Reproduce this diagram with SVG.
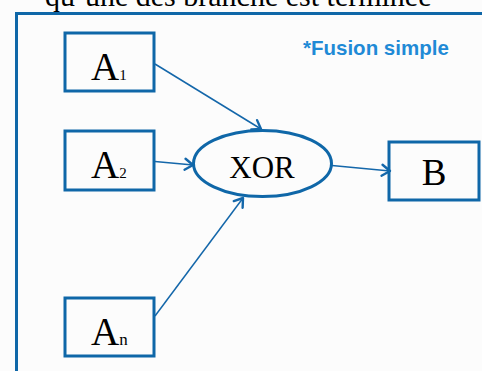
<svg xmlns="http://www.w3.org/2000/svg" width="482" height="371" viewBox="0 0 482 371">
  <style>
    .box { fill: none; stroke: #0f67a8; stroke-width: 3; }
    .lbl { font-family: "Liberation Serif", "Times New Roman", serif; fill: #000; }
    .sub { font-size: 15px; }
    .edge { fill: none; stroke: #1467aa; stroke-width: 1.5; marker-end: url(#arrow); }
  </style>
  <defs>
    <marker id="arrow" markerUnits="userSpaceOnUse" markerWidth="14" markerHeight="14" viewBox="0 0 14 14" refX="11" refY="7" orient="auto">
      <path d="M3,1.5 L11,7 L3,12.5" fill="none" stroke="#1467aa" stroke-width="2.4" stroke-linecap="round" stroke-linejoin="round"/>
    </marker>
  </defs>

  <rect width="482" height="371" fill="#fcfcfc"/>

  <!-- heading line, partly above the top edge -->
  <text x="45" y="6" class="lbl" font-size="30">qu’une des branche est terminée</text>

  <!-- outer frame running past the right and bottom edges -->
  <path d="M16.5,380 L16.5,13.5 L490,13.5" fill="none" stroke="#0f67a8" stroke-width="3"/>

  <text x="303" y="55" font-family="'Liberation Sans', Arial, sans-serif" font-weight="bold" font-size="20.5" fill="#1f8ad6">*Fusion simple</text>

  <g id="connectors">
    <line class="edge" x1="155" y1="64" x2="261" y2="129"/>
    <line class="edge" x1="155" y1="161.5" x2="193" y2="165"/>
    <line class="edge" x1="155" y1="316" x2="243" y2="198"/>
    <line class="edge" x1="332" y1="165.5" x2="390" y2="171"/>
  </g>

  <g id="A1">
    <rect class="box" x="65" y="33" width="89" height="58"/>
    <text class="lbl" x="91" y="80" font-size="39">A<tspan class="sub">1</tspan></text>
  </g>

  <g id="A2">
    <rect class="box" x="65" y="131" width="89" height="59"/>
    <text class="lbl" x="91" y="178" font-size="39">A<tspan class="sub">2</tspan></text>
  </g>

  <g id="An">
    <rect class="box" x="65" y="298" width="89" height="58"/>
    <text class="lbl" x="91" y="345" font-size="39">A<tspan font-size="17">n</tspan></text>
  </g>

  <g id="XOR">
    <ellipse cx="262.5" cy="163.5" rx="69" ry="33" fill="none" stroke="#0f67a8" stroke-width="3"/>
    <text class="lbl" x="262" y="178" font-size="31" text-anchor="middle">XOR</text>
  </g>

  <g id="B">
    <rect class="box" x="389" y="142" width="90" height="58"/>
    <text class="lbl" x="434" y="185" font-size="37" text-anchor="middle">B</text>
  </g>
</svg>
